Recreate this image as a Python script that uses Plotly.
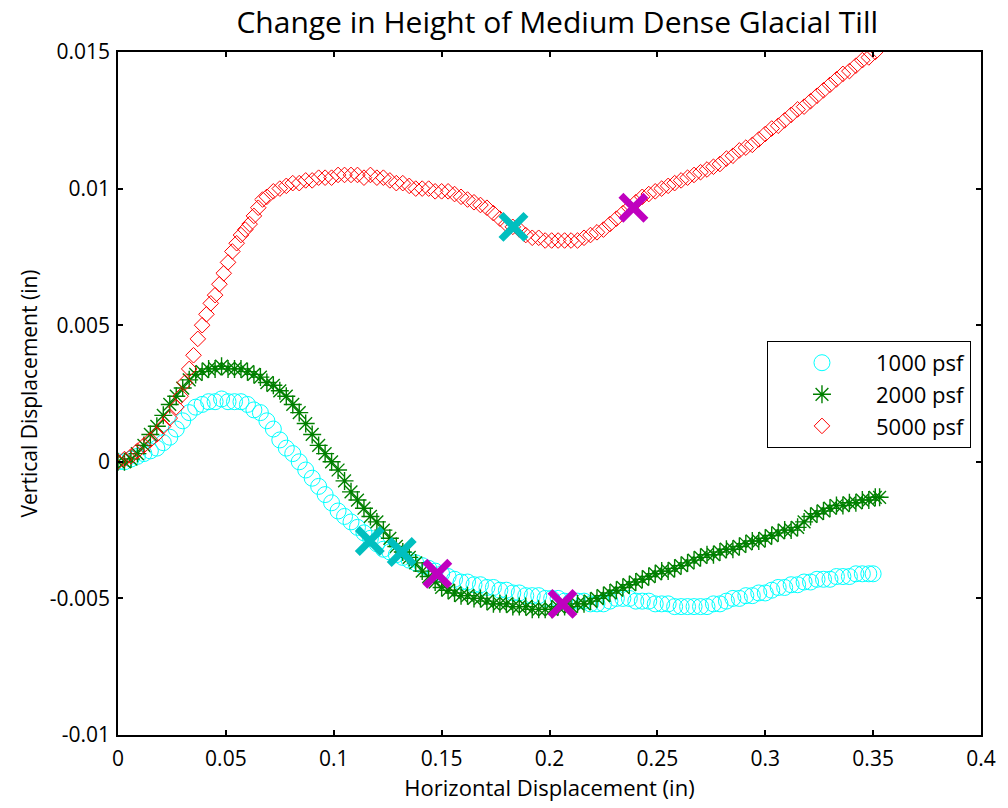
import plotly.graph_objects as go

# Horizontal displacement (in) and vertical displacement (in) for each normal load
x_1000 = [0.000, 0.003, 0.006, 0.009, 0.012, 0.015, 0.018, 0.021, 0.024, 0.027,
          0.030, 0.033, 0.036, 0.039, 0.042, 0.045, 0.048, 0.051, 0.054, 0.057,
          0.060, 0.063, 0.066, 0.069, 0.072, 0.075, 0.078, 0.081, 0.084, 0.087,
          0.090, 0.093, 0.096, 0.099, 0.102, 0.105, 0.108, 0.111, 0.114, 0.117,
          0.120, 0.123, 0.126, 0.129, 0.132, 0.135, 0.138, 0.141, 0.144, 0.147,
          0.150, 0.153, 0.156, 0.159, 0.162, 0.165, 0.168, 0.171, 0.174, 0.177,
          0.180, 0.183, 0.186, 0.189, 0.192, 0.195, 0.198, 0.201, 0.204, 0.207,
          0.210, 0.213, 0.216, 0.219, 0.222, 0.225, 0.228, 0.231, 0.234, 0.237,
          0.240, 0.243, 0.246, 0.249, 0.252, 0.255, 0.258, 0.261, 0.264, 0.267,
          0.270, 0.273, 0.276, 0.279, 0.282, 0.285, 0.288, 0.291, 0.294, 0.297,
          0.300, 0.303, 0.306, 0.309, 0.312, 0.315, 0.318, 0.321, 0.324, 0.327,
          0.330, 0.333, 0.336, 0.339, 0.342, 0.345, 0.348, 0.350]
y_1000 = [0.0000, 0.0000, 0.0001, 0.0002, 0.0003, 0.0004, 0.0005, 0.0007, 0.0009, 0.0012,
          0.0015, 0.0018, 0.0020, 0.0021, 0.0022, 0.0022, 0.0023, 0.0022, 0.0022, 0.0022,
          0.0021, 0.0019, 0.0018, 0.0015, 0.0012, 0.0008, 0.0005, 0.0003, 0.0000, -0.0003,
          -0.0006, -0.0009, -0.0012, -0.0015, -0.0018, -0.0020, -0.0022, -0.0024, -0.0026, -0.0028,
          -0.0030, -0.0032, -0.0033, -0.0034, -0.0035, -0.0036, -0.0037, -0.0038, -0.0039, -0.0040,
          -0.0041, -0.0042, -0.0043, -0.0044, -0.0044, -0.0045, -0.0045, -0.0046, -0.0046, -0.0047,
          -0.0047, -0.0048, -0.0048, -0.0049, -0.0049, -0.0049, -0.0050, -0.0050, -0.0050, -0.0051,
          -0.0051, -0.0051, -0.0051, -0.0052, -0.0052, -0.0052, -0.0051, -0.0050, -0.0050, -0.0050,
          -0.0051, -0.0051, -0.0051, -0.0052, -0.0052, -0.0052, -0.0053, -0.0053, -0.0053, -0.0053,
          -0.0053, -0.0053, -0.0052, -0.0052, -0.0051, -0.0050, -0.0050, -0.0049, -0.0049, -0.0048,
          -0.0048, -0.0047, -0.0046, -0.0046, -0.0045, -0.0045, -0.0044, -0.0044, -0.0043, -0.0043,
          -0.0043, -0.0042, -0.0042, -0.0042, -0.0041, -0.0041, -0.0041, -0.0041]

x_2000 = [0.000, 0.003, 0.006, 0.009, 0.012, 0.015, 0.018, 0.021, 0.024, 0.027,
          0.030, 0.033, 0.036, 0.039, 0.042, 0.045, 0.048, 0.051, 0.054, 0.057,
          0.060, 0.063, 0.066, 0.069, 0.072, 0.075, 0.078, 0.081, 0.084, 0.087,
          0.090, 0.093, 0.096, 0.099, 0.102, 0.105, 0.108, 0.111, 0.114, 0.117,
          0.120, 0.123, 0.126, 0.129, 0.132, 0.135, 0.138, 0.141, 0.144, 0.147,
          0.150, 0.153, 0.156, 0.159, 0.162, 0.165, 0.168, 0.171, 0.174, 0.177,
          0.180, 0.183, 0.186, 0.189, 0.192, 0.195, 0.198, 0.201, 0.204, 0.207,
          0.210, 0.213, 0.216, 0.219, 0.222, 0.225, 0.228, 0.231, 0.234, 0.237,
          0.240, 0.243, 0.246, 0.249, 0.252, 0.255, 0.258, 0.261, 0.264, 0.267,
          0.270, 0.273, 0.276, 0.279, 0.282, 0.285, 0.288, 0.291, 0.294, 0.297,
          0.300, 0.303, 0.306, 0.309, 0.312, 0.315, 0.318, 0.321, 0.324, 0.327,
          0.330, 0.333, 0.336, 0.339, 0.342, 0.345, 0.348, 0.351, 0.353]
y_2000 = [0.0000, 0.0000, 0.0001, 0.0003, 0.0006, 0.0010, 0.0013, 0.0017, 0.0021, 0.0024,
          0.0027, 0.0030, 0.0032, 0.0033, 0.0034, 0.0034, 0.0035, 0.0034, 0.0034, 0.0034,
          0.0033, 0.0032, 0.0031, 0.0029, 0.0028, 0.0026, 0.0024, 0.0021, 0.0018, 0.0014,
          0.0010, 0.0006, 0.0003, 0.0000, -0.0003, -0.0007, -0.0011, -0.0014, -0.0017, -0.0020,
          -0.0022, -0.0025, -0.0028, -0.0031, -0.0033, -0.0035, -0.0037, -0.0040, -0.0042, -0.0044,
          -0.0046, -0.0047, -0.0048, -0.0049, -0.0049, -0.0050, -0.0050, -0.0051, -0.0052, -0.0052,
          -0.0052, -0.0053, -0.0053, -0.0053, -0.0054, -0.0054, -0.0054, -0.0054, -0.0053, -0.0053,
          -0.0053, -0.0052, -0.0052, -0.0051, -0.0050, -0.0049, -0.0048, -0.0047, -0.0046, -0.0045,
          -0.0044, -0.0043, -0.0042, -0.0041, -0.0040, -0.0040, -0.0039, -0.0038, -0.0037, -0.0036,
          -0.0035, -0.0034, -0.0034, -0.0033, -0.0032, -0.0032, -0.0031, -0.0030, -0.0029, -0.0029,
          -0.0028, -0.0027, -0.0026, -0.0025, -0.0025, -0.0024, -0.0022, -0.0020, -0.0019, -0.0018,
          -0.0017, -0.0016, -0.0016, -0.0015, -0.0015, -0.0014, -0.0014, -0.0013, -0.0013]

x_5000 = [0.000, 0.003, 0.006, 0.009, 0.012, 0.015, 0.018, 0.021, 0.024, 0.027,
          0.029, 0.031, 0.033, 0.035, 0.037, 0.039, 0.041, 0.043, 0.045, 0.047,
          0.049, 0.051, 0.053, 0.055, 0.057, 0.059, 0.061, 0.063, 0.065, 0.067,
          0.069, 0.072, 0.075, 0.078, 0.081, 0.084, 0.087, 0.090, 0.093, 0.096,
          0.099, 0.102, 0.105, 0.108, 0.111, 0.114, 0.117, 0.120, 0.123, 0.126,
          0.129, 0.132, 0.135, 0.138, 0.141, 0.144, 0.147, 0.150, 0.153, 0.156,
          0.159, 0.162, 0.165, 0.168, 0.171, 0.174, 0.177, 0.180, 0.183, 0.186,
          0.189, 0.192, 0.195, 0.198, 0.201, 0.204, 0.207, 0.210, 0.213, 0.216,
          0.219, 0.222, 0.225, 0.228, 0.231, 0.234, 0.237, 0.240, 0.243, 0.246,
          0.249, 0.252, 0.255, 0.258, 0.261, 0.264, 0.267, 0.270, 0.273, 0.276,
          0.279, 0.282, 0.285, 0.288, 0.291, 0.294, 0.297, 0.300, 0.303, 0.306,
          0.309, 0.312, 0.315, 0.318, 0.321, 0.324, 0.327, 0.330, 0.333, 0.336,
          0.339, 0.342, 0.345, 0.348, 0.351]
y_5000 = [0.0000, 0.0001, 0.0002, 0.0004, 0.0006, 0.0008, 0.0010, 0.0013, 0.0016, 0.0020,
          0.0024, 0.0029, 0.0034, 0.0039, 0.0045, 0.0050, 0.0054, 0.0058, 0.0061, 0.0065,
          0.0069, 0.0073, 0.0077, 0.0080, 0.0083, 0.0085, 0.0087, 0.0090, 0.0093, 0.0096,
          0.0097, 0.0099, 0.0100, 0.0101, 0.0102, 0.0102, 0.0103, 0.0103, 0.0104, 0.0104,
          0.0104, 0.0105, 0.0105, 0.0105, 0.0105, 0.0104, 0.0105, 0.0104, 0.0104, 0.0103,
          0.0102, 0.0102, 0.0101, 0.0100, 0.0100, 0.0100, 0.0099, 0.0099, 0.0099, 0.0098,
          0.0097, 0.0096, 0.0095, 0.0094, 0.0093, 0.0091, 0.0089, 0.0087, 0.0086, 0.0085,
          0.0083, 0.0082, 0.0082, 0.0081, 0.0081, 0.0081, 0.0081, 0.0081, 0.0081, 0.0082,
          0.0083, 0.0084, 0.0085, 0.0087, 0.0089, 0.0091, 0.0093, 0.0095, 0.0097, 0.0098,
          0.0099, 0.0100, 0.0101, 0.0102, 0.0103, 0.0104, 0.0105, 0.0106, 0.0107, 0.0108,
          0.0109, 0.0111, 0.0112, 0.0114, 0.0115, 0.0116, 0.0118, 0.0120, 0.0122, 0.0123,
          0.0125, 0.0127, 0.0129, 0.0130, 0.0132, 0.0134, 0.0136, 0.0138, 0.0140, 0.0142,
          0.0143, 0.0145, 0.0147, 0.0148, 0.0150]

# Highlighted points (two kinds of event markers)
cyan_pts_x = [0.1167, 0.1315, 0.1833]
cyan_pts_y = [-0.0029, -0.0033, 0.0086]
magenta_pts_x = [0.1480, 0.2060, 0.2389]
magenta_pts_y = [-0.0041, -0.0052, 0.0093]

series_names = ["1000 psf", "2000 psf", "5000 psf"]

x_ticks = [0, 0.05, 0.1, 0.15, 0.2, 0.25, 0.3, 0.35, 0.4]
x_tick_text = ["0", "0.05", "0.1", "0.15", "0.2", "0.25", "0.3", "0.35", "0.4"]
y_ticks = [-0.01, -0.005, 0, 0.005, 0.01, 0.015]
y_tick_text = ["-0.01", "-0.005", "0", "0.005", "0.01", "0.015"]

FONT = "'Open Sans', Lato, sans-serif"

fig = go.Figure()

fig.add_trace(go.Scatter(
    x=x_1000, y=y_1000, mode="markers", name=series_names[0],
    marker=dict(symbol="circle-open", size=16, color="#00FFFF",
                line=dict(width=1, color="#00FFFF")),
))
fig.add_trace(go.Scatter(
    x=x_2000, y=y_2000, mode="markers", name=series_names[1],
    marker=dict(symbol="asterisk-open", size=15, color="#008000",
                line=dict(width=1.4, color="#008000")),
))
fig.add_trace(go.Scatter(
    x=x_5000, y=y_5000, mode="markers", name=series_names[2],
    marker=dict(symbol="diamond-open", size=12, color="#FF0000",
                line=dict(width=1, color="#FF0000")),
))
fig.add_trace(go.Scatter(
    x=cyan_pts_x, y=cyan_pts_y, mode="markers", showlegend=False,
    marker=dict(symbol="x-thin-open", size=25, color="#00BFBF",
                line=dict(width=7, color="#00BFBF")),
))
fig.add_trace(go.Scatter(
    x=magenta_pts_x, y=magenta_pts_y, mode="markers", showlegend=False,
    marker=dict(symbol="x-thin-open", size=25, color="#BF00BF",
                line=dict(width=7, color="#BF00BF")),
))

axis_common = dict(
    showline=True, linecolor="black", linewidth=1.5, mirror="ticks",
    ticks="inside", ticklen=5, tickcolor="black", tickwidth=1.5,
    showgrid=False, zeroline=False,
    tickfont=dict(family=FONT, size=21, color="black"),
)

fig.update_layout(
    width=1008, height=808,
    margin=dict(l=118, r=22, t=52, b=73),
    paper_bgcolor="white", plot_bgcolor="white",
    font=dict(family=FONT, color="black"),
    title=dict(text="Change in Height of Medium Dense Glacial Till",
               x=0.509, xref="paper", xanchor="center",
               y=1 - 22 / 808, yref="container", yanchor="middle",
               font=dict(family=FONT, size=30, color="black")),
    xaxis=dict(range=[0, 0.4], tickvals=x_ticks, ticktext=x_tick_text,
               ticklabelstandoff=4,
               title=dict(text="Horizontal Displacement (in)", standoff=2,
                          font=dict(family=FONT, size=22, color="black")),
               **axis_common),
    yaxis=dict(range=[-0.01, 0.015], tickvals=y_ticks, ticktext=y_tick_text,
               ticklabelstandoff=2,
               title=dict(text="Vertical Displacement (in)", standoff=6,
                          font=dict(family=FONT, size=21, color="black")),
               **axis_common),
    legend=dict(x=0.752, y=0.577, xanchor="left", yanchor="top",
                bgcolor="white", bordercolor="black", borderwidth=1,
                font=dict(family=FONT, size=22, color="black"),
                itemwidth=98, tracegroupgap=0),
)

fig.write_html("out.html")
